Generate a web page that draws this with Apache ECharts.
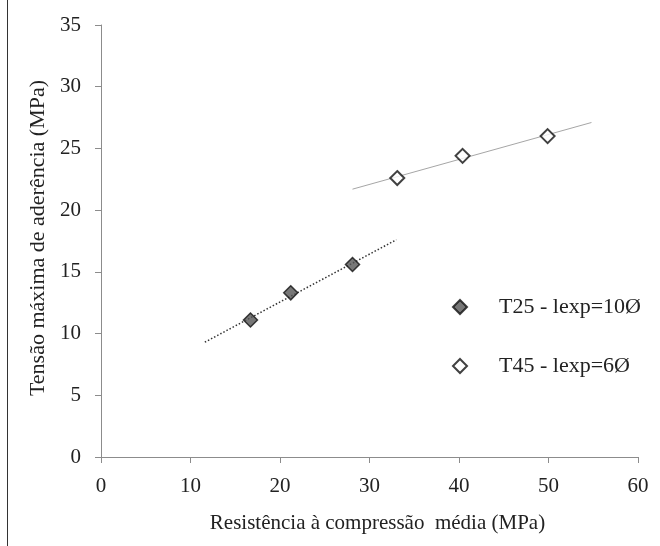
<!DOCTYPE html>
<html>
<head>
<meta charset="utf-8">
<script src="https://cdn.jsdelivr.net/npm/echarts@6/dist/echarts.min.js"></script>
<style>
  html, body { margin: 0; padding: 0; background: #fff; }
  #chart { width: 660px; height: 546px; }
</style>
</head>
<body>
<div id="chart"></div>
<script>
// Measured points: mean compressive strength (MPa) vs max bond stress (MPa)
const t25Points = [[16.7, 11.1], [21.2, 13.3], [28.1, 15.6]];
const t45Points = [[33.1, 22.6], [40.4, 24.4], [49.9, 26.0]];

// Linear trend lines (end points)
const t25Trend = [[11.6, 9.3], [33.0, 17.6]];
const t45Trend = [[28.1, 21.7], [54.8, 27.1]];

const seriesNames = ['T25 - lexp=10Ø', 'T45 - lexp=6Ø'];
const xTicks = { min: 0, max: 60, step: 10 };
const yTicks = { min: 0, max: 35, step: 5 };

const FONT = '"Liberation Serif", "DejaVu Serif", serif';
const chart = echarts.init(document.getElementById('chart'), null, { renderer: 'canvas' });

chart.setOption({
  animation: false,
  backgroundColor: '#ffffff',
  textStyle: { fontFamily: FONT, color: '#222' },
  grid: { left: 101, right: 22, top: 25, bottom: 89, containLabel: false },
  graphic: [{
    type: 'line',
    shape: { x1: 7.5, y1: 0, x2: 7.5, y2: 546 },
    style: { stroke: '#333', lineWidth: 1 }
  }],
  legend: {
    orient: 'vertical',
    left: 447,
    top: 290,
    itemGap: 35,
    itemWidth: 14,
    itemHeight: 14,
    textStyle: { fontFamily: FONT, fontSize: 22, lineHeight: 24, color: '#222', padding: [0, 0, 0, 27] },
    data: [
      { name: seriesNames[0], icon: 'diamond' },
      { name: seriesNames[1], icon: 'diamond' }
    ]
  },
  xAxis: {
    type: 'value',
    min: xTicks.min, max: xTicks.max, interval: xTicks.step,
    name: 'Resistência à compressão  média (MPa)',
    nameLocation: 'middle',
    nameGap: 56,
    nameTextStyle: { fontFamily: FONT, fontSize: 21, color: '#222', padding: [0, 0, 0, 16] },
    axisLine: { show: true, lineStyle: { color: '#8c8c8c', width: 1 } },
    axisTick: { show: true, length: 6, lineStyle: { color: '#8c8c8c' } },
    axisLabel: { fontFamily: FONT, fontSize: 21, color: '#222', margin: 19 },
    splitLine: { show: false }
  },
  yAxis: {
    type: 'value',
    min: yTicks.min, max: yTicks.max, interval: yTicks.step,
    name: 'Tensão máxima de aderência (MPa)',
    nameLocation: 'middle',
    nameGap: 51,
    nameTextStyle: { fontFamily: FONT, fontSize: 22, color: '#222', padding: [0, 0, 0, 6] },
    axisLine: { show: true, lineStyle: { color: '#8c8c8c', width: 1 } },
    axisTick: { show: true, length: 6, lineStyle: { color: '#8c8c8c' } },
    axisLabel: { fontFamily: FONT, fontSize: 21, color: '#222', margin: 20 },
    splitLine: { show: false }
  },
  series: [
    {
      name: 'trend-t25',
      type: 'line',
      data: t25Trend,
      symbol: 'none',
      lineStyle: { color: '#333', width: 1.5, type: [1.5, 2] },
      silent: true,
      z: 1
    },
    {
      name: 'trend-t45',
      type: 'line',
      data: t45Trend,
      symbol: 'none',
      lineStyle: { color: '#a6a6a6', width: 1 },
      silent: true,
      z: 1
    },
    {
      name: seriesNames[0],
      type: 'scatter',
      data: t25Points,
      symbol: 'diamond',
      symbolSize: 14,
      itemStyle: { color: '#555555', borderColor: '#111', borderWidth: 1.5 },
      z: 3
    },
    {
      name: seriesNames[1],
      type: 'scatter',
      data: t45Points,
      symbol: 'diamond',
      symbolSize: 14,
      itemStyle: { color: '#ffffff', borderColor: '#111', borderWidth: 2 },
      z: 3
    }
  ]
});
</script>
</body>
</html>
